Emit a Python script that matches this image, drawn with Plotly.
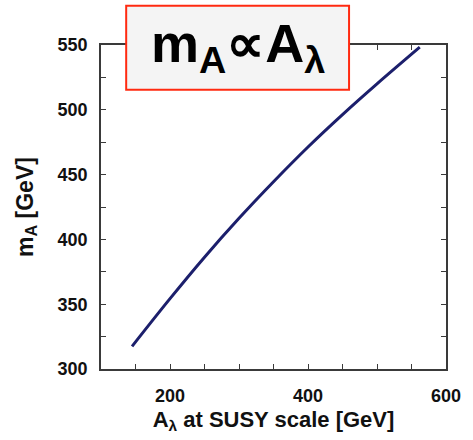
import plotly.graph_objects as go

# Data
a_lambda = [145, 200, 250, 300, 350, 400, 450, 500, 562]
m_A = [317.5, 354.3, 386.3, 416.3, 444.5, 471.3, 496.3, 520.0, 548.3]

x_tickvals = [200, 400, 600]
y_tickvals = [300, 350, 400, 450, 500, 550]

fig = go.Figure()
fig.add_trace(go.Scatter(
    x=a_lambda, y=m_A, mode="lines",
    line=dict(color="#1c1f6c", width=3, shape="spline", smoothing=1.0),
    showlegend=False,
))

axis_common = dict(
    showgrid=False, zeroline=False,
    showline=True, linecolor="#3a3a3a", linewidth=1.5,
    mirror="allticks", ticks="inside", ticklen=5, tickwidth=1.2, tickcolor="#3a3a3a",
    tickfont=dict(family="Liberation Sans, Arial", size=18, color="#111111", weight="bold"),
)

fig.update_xaxes(
    range=[100, 600], tickvals=x_tickvals, ticktext=[str(v) for v in x_tickvals],
    minor=dict(dtick=50, tick0=0, ticks="inside", ticklen=5, tickcolor="#3a3a3a"),
    ticklabelstandoff=10,
    title=dict(text="<b>A<sub>λ</sub> at SUSY scale [GeV]</b>",
               font=dict(family="Liberation Sans, Arial", size=22, color="#111111"),
               standoff=6),
    **axis_common,
)
fig.update_yaxes(
    range=[300, 550], tickvals=y_tickvals, ticktext=[str(v) for v in y_tickvals],
    minor=dict(dtick=25, tick0=0, ticks="inside", ticklen=5, tickcolor="#3a3a3a"),
    ticklabelstandoff=8,
    title=dict(text="<b>m<sub>A</sub> [GeV]</b>",
               font=dict(family="Liberation Sans, Arial", size=23, color="#111111"),
               standoff=18),
    **axis_common,
)

# Title box
fig.add_shape(type="rect", xref="paper", yref="paper",
              x0=0.073, x1=0.719, y0=0.8615, y1=1.121,
              line=dict(color="#ff2a10", width=2), fillcolor="#f4f4f4", layer="above")
fig.add_annotation(xref="paper", yref="paper", x=0.396, y=0.995,
                   xanchor="center", yanchor="middle", showarrow=False,
                   text="<b>m<sub>A</sub>∝A<sub>λ</sub></b>",
                   font=dict(family="Liberation Sans, Arial", size=54, color="#000000"))

fig.update_layout(
    width=473, height=440,
    margin=dict(l=101, r=20, t=45, b=70),
    paper_bgcolor="white", plot_bgcolor="white",
)

fig.write_html("out.html")
